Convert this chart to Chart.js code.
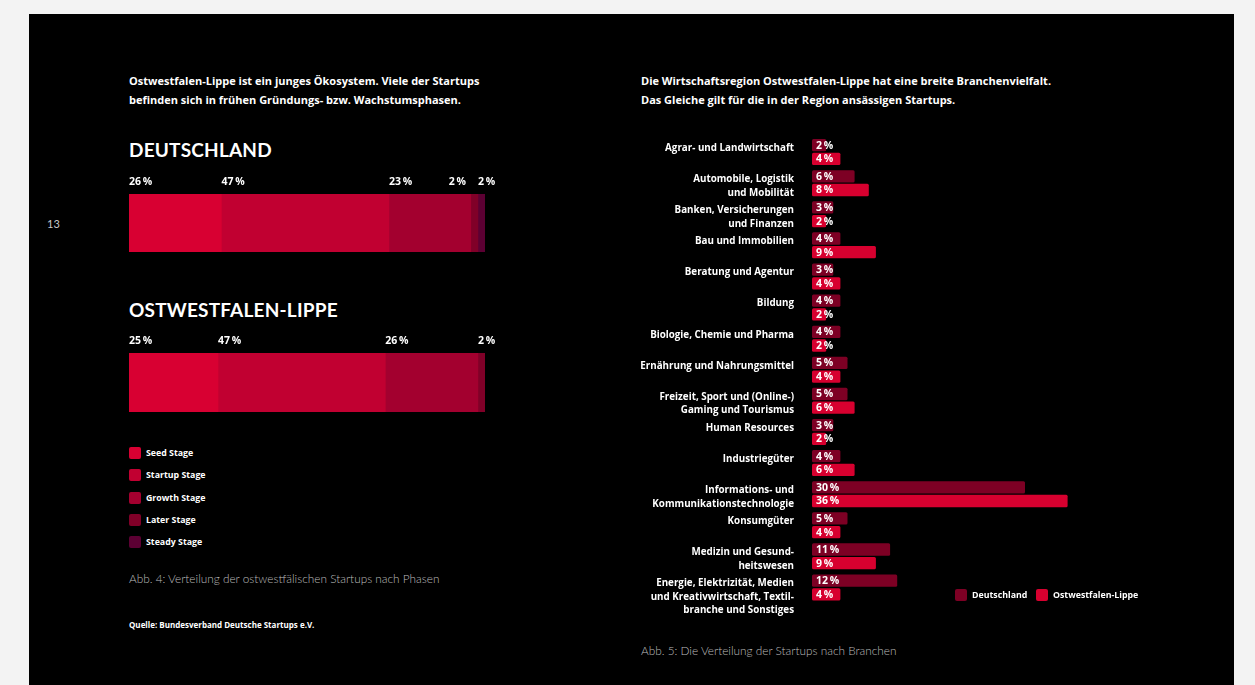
<!DOCTYPE html>
<html>
<head>
<meta charset="utf-8">
<script src="https://cdn.jsdelivr.net/npm/chart.js@4.4.0/dist/chart.umd.min.js"></script>
<style>
  html, body { margin: 0; padding: 0; }
  body { width: 1255px; height: 685px; background: #f3f3f3; position: relative; overflow: hidden;
         font-family: "Open Sans", Lato, sans-serif; color: #fff; }
  #panel { position: absolute; left: 29px; top: 14px; width: 1205px; height: 671px; background: #000; }
  .abs { position: absolute; white-space: nowrap; }
  .intro { font-weight: 700; font-size: 11px; line-height: 19px; }
  .head { font-family: Lato, sans-serif; font-weight: 700; font-size: 19px; line-height: 19px; letter-spacing: 0.2px; }
  .caption { font-family: Lato, sans-serif; font-weight: 300; font-size: 11.8px; line-height: 14px; color: #bcbcbc; }
  .leg { font-weight: 700; font-size: 8.8px; line-height: 12px; display: flex; align-items: center; }
  .leg i { display: inline-block; width: 12px; height: 12px; border-radius: 2px; margin-right: 5px; }
  canvas { position: absolute; }
</style>
</head>
<body>
<div id="panel"></div>
<div class="abs" style="left:47px;top:217px;font-size:11px;font-family:Lato,sans-serif;color:#c8c8c8;">13</div>

<div class="abs intro" style="left:129px;top:71px;">Ostwestfalen-Lippe ist ein junges Ökosystem. Viele der Startups<br>befinden sich in frühen Gründungs- bzw. Wachstumsphasen.</div>
<div class="abs head" style="left:129px;top:140px;">DEUTSCHLAND</div>
<div class="abs head" style="left:129px;top:300px;">OSTWESTFALEN-LIPPE</div>

<canvas id="deChart" style="left:129px;top:170px;width:380px;height:82px;"></canvas>
<canvas id="owlChart" style="left:129px;top:329px;width:380px;height:83px;"></canvas>

<div id="stageLegend"></div>

<div class="abs caption" style="left:129px;top:572px;">Abb. 4: Verteilung der ostwestfälischen Startups nach Phasen</div>
<div class="abs" style="left:129px;top:620px;font-weight:700;font-size:8px;line-height:10px;">Quelle: Bundesverband Deutsche Startups e.V.</div>

<div class="abs intro" style="left:641px;top:71px;">Die Wirtschaftsregion Ostwestfalen-Lippe hat eine breite Branchenvielfalt.<br>Das Gleiche gilt für die in der Region ansässigen Startups.</div>

<canvas id="branchChart" style="left:630px;top:130px;width:520px;height:490px;"></canvas>

<div class="abs leg" style="left:955px;top:589px;"><i style="background:#7d0024"></i>Deutschland</div>
<div class="abs leg" style="left:1036px;top:589px;"><i style="background:#d7002f"></i>Ostwestfalen-Lippe</div>

<div class="abs caption" style="left:641px;top:644px;">Abb. 5: Die Verteilung der Startups nach Branchen</div>

<script>
// Phasen (Abb. 4)
const stages = ["Seed Stage", "Startup Stage", "Growth Stage", "Later Stage", "Steady Stage"];
const stageColors = ["#d80032", "#c10031", "#a3002f", "#800028", "#5c0033"];
const deStages = [26, 47, 23, 2, 2];
const owlStages = [25, 47, 26, 2, 0];

// Branchen (Abb. 5)
const branches = [
  ["Agrar- und Landwirtschaft"],
  ["Automobile, Logistik", "und Mobilität"],
  ["Banken, Versicherungen", "und Finanzen"],
  ["Bau und Immobilien"],
  ["Beratung und Agentur"],
  ["Bildung"],
  ["Biologie, Chemie und Pharma"],
  ["Ernährung und Nahrungsmittel"],
  ["Freizeit, Sport und (Online-)", "Gaming und Tourismus"],
  ["Human Resources"],
  ["Industriegüter"],
  ["Informations- und", "Kommunikationstechnologie"],
  ["Konsumgüter"],
  ["Medizin und Gesund-", "heitswesen"],
  ["Energie, Elektrizität, Medien", "und Kreativwirtschaft, Textil-", "branche und Sonstiges"]
];
const deBranches  = [2, 6, 3, 4, 3, 4, 4, 5, 5, 3, 4, 30, 5, 11, 12];
const owlBranches = [4, 8, 2, 9, 4, 2, 2, 4, 6, 2, 6, 36, 4, 9, 4];
const seriesNames = ["Deutschland", "Ostwestfalen-Lippe"];
const seriesColors = ["#7d0024", "#d7002f"];

const pct = v => v + "\u2009%";
const boldFont = size => "700 " + size + "px 'Open Sans', Lato, sans-serif";

// stage legend
const legendBox = document.getElementById("stageLegend");
stages.forEach((s, i) => {
  const d = document.createElement("div");
  d.className = "abs leg";
  d.style.left = "129px";
  d.style.top = (447 + i * 22.3) + "px";
  d.innerHTML = '<i style="background:' + stageColors[i] + '"></i>' + s;
  legendBox.appendChild(d);
});

// labels above stacked segments, pushed left when they would collide
const stackLabels = {
  id: "stackLabels",
  afterDatasetsDraw(chart) {
    const ctx = chart.ctx;
    ctx.save();
    ctx.font = boldFont(10.5);
    ctx.fillStyle = "#fff";
    ctx.textBaseline = "middle";
    const items = [];
    chart.data.datasets.forEach((ds, i) => {
      const v = ds.data[0];
      if (!v) return;
      const el = chart.getDatasetMeta(i).data[0];
      const p = el.getProps(["base"], true);
      items.push({ x: p.base, text: pct(v) });
    });
    let limit = Infinity;
    for (let k = items.length - 1; k >= 0; k--) {
      const w = ctx.measureText(items[k].text).width;
      let x = Math.min(items[k].x, limit - w - 12);
      items[k].x = x;
      limit = x;
    }
    items.forEach(it => ctx.fillText(it.text, it.x, chart.chartArea.top - 12));
    ctx.restore();
  }
};

function stageChart(id, values) {
  return new Chart(document.getElementById(id), {
    type: "bar",
    data: {
      labels: [""],
      datasets: stages.map((s, i) => ({
        label: s,
        data: [values[i]],
        backgroundColor: stageColors[i],
        borderWidth: 0,
        borderRadius: 1.5,
        borderSkipped: false,
        barPercentage: 1,
        categoryPercentage: 1
      }))
    },
    options: {
      indexAxis: "y",
      responsive: false,
      animation: false,
      layout: { padding: { top: 24, right: 24, left: 0, bottom: 0 } },
      scales: {
        x: { stacked: true, min: 0, max: 100, display: false },
        y: { stacked: true, display: false }
      },
      plugins: { legend: { display: false }, tooltip: { enabled: false } }
    },
    plugins: [stackLabels]
  });
}

const deCanvas = document.getElementById("deChart");
deCanvas.width = 380; deCanvas.height = 82;
const owlCanvas = document.getElementById("owlChart");
owlCanvas.width = 380; owlCanvas.height = 83;
stageChart("deChart", deStages);
stageChart("owlChart", owlStages);

// value labels inside bars and multi-line category labels
const branchLabels = {
  id: "branchLabels",
  afterDatasetsDraw(chart) {
    const ctx = chart.ctx;
    ctx.save();
    ctx.fillStyle = "#fff";
    ctx.textBaseline = "middle";
    ctx.font = boldFont(10.5);
    chart.data.datasets.forEach((ds, i) => {
      chart.getDatasetMeta(i).data.forEach((el, j) => {
        const p = el.getProps(["base", "y"], true);
        ctx.textAlign = "left";
        ctx.fillText(pct(ds.data[j]), p.base + 4, p.y + 0.5);
      });
    });
    const firstBar = chart.getDatasetMeta(0).data;
    ctx.font = boldFont(9.8);
    ctx.textAlign = "right";
    branches.forEach((lines, j) => {
      const top = firstBar[j].getProps(["y"], true).y;
      lines.forEach((line, k) => {
        ctx.fillText(line, chart.chartArea.left - 18, top + 3 + k * 13.5);
      });
    });
    ctx.restore();
  }
};

const bc = document.getElementById("branchChart");
bc.width = 520; bc.height = 490;
new Chart(bc, {
  type: "bar",
  data: {
    labels: branches.map(b => b.join(" ")),
    datasets: [deBranches, owlBranches].map((vals, i) => ({
      label: seriesNames[i],
      data: vals,
      backgroundColor: seriesColors[i],
      borderWidth: 0,
      borderRadius: 1.5,
      borderSkipped: false,
      barPercentage: 0.9,
      categoryPercentage: 0.88
    }))
  },
  options: {
    indexAxis: "y",
    responsive: false,
    animation: false,
    layout: { padding: { top: 6.5, right: 54, left: 182, bottom: 17 } },
    scales: {
      x: { min: 0, max: 40, display: false },
      y: { display: false }
    },
    plugins: { legend: { display: false }, tooltip: { enabled: false } }
  },
  plugins: [branchLabels]
});
</script>
</body>
</html>
